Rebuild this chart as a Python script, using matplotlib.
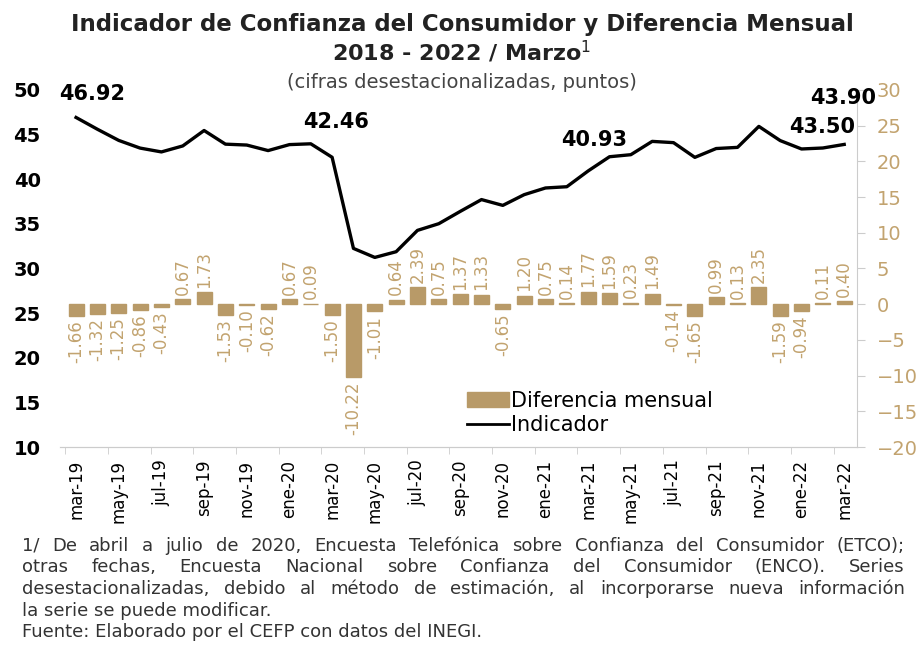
import matplotlib
matplotlib.use("Agg")
import matplotlib.pyplot as plt
from matplotlib.patches import Patch
from matplotlib.lines import Line2D

# monthly data, mar-2019 .. mar-2022
months = ["mar-19", "abr-19", "may-19", "jun-19", "jul-19", "ago-19", "sep-19", "oct-19",
          "nov-19", "dic-19", "ene-20", "feb-20", "mar-20", "abr-20", "may-20", "jun-20",
          "jul-20", "ago-20", "sep-20", "oct-20", "nov-20", "dic-20", "ene-21", "feb-21",
          "mar-21", "abr-21", "may-21", "jun-21", "jul-21", "ago-21", "sep-21", "oct-21",
          "nov-21", "dic-21", "ene-22", "feb-22", "mar-22"]

diferencia = [-1.66, -1.32, -1.25, -0.86, -0.43, 0.67, 1.73, -1.53, -0.10, -0.62,
              0.67, 0.09, -1.50, -10.22, -1.01, 0.64, 2.39, 0.75, 1.37, 1.33,
              -0.65, 1.20, 0.75, 0.14, 1.77, 1.59, 0.23, 1.49, -0.14, -1.65,
              0.99, 0.13, 2.35, -1.59, -0.94, 0.11, 0.40]

indicador = [46.92, 45.60, 44.35, 43.49, 43.06, 43.73, 45.46, 43.93, 43.83, 43.21,
             43.88, 43.97, 42.46, 32.25, 31.24, 31.88, 34.27, 35.02, 36.39, 37.72,
             37.07, 38.27, 39.02, 39.16, 40.93, 42.52, 42.75, 44.24, 44.10, 42.45,
             43.44, 43.57, 45.92, 44.33, 43.39, 43.50, 43.90]

# labelled points on the line: (text, x, y)
etiquetas = [("46.92", 0.75, 49.6), ("42.46", 12.2, 46.4), ("40.93", 24.3, 44.4),
             ("43.50", 34.95, 45.85), ("43.90", 35.95, 49.1)]

tan = "#b89a68"
tan_txt = "#c2a36f"

plt.rcParams["font.family"] = "DejaVu Sans"

fig = plt.figure(figsize=(9.24, 6.52), dpi=100)
ax = fig.add_axes([0.065, 0.3144, 0.8625, 0.5476])
ax2 = ax.twinx()

x = list(range(len(months)))

# bars on right axis
ax2.bar(x, diferencia, width=0.7, color=tan, edgecolor=tan, linewidth=1, zorder=2)
for i, v in enumerate(diferencia):
    if v >= 0:
        ax2.text(i, v + 0.6, "%.2f" % v, rotation=90, ha="center", va="bottom",
                 color=tan_txt, fontsize=12)
    else:
        ax2.text(i, v - 0.6, "%.2f" % v, rotation=90, ha="center", va="top",
                 color=tan_txt, fontsize=12)
ax2.set_ylim(-20, 30)
ax2.set_yticks(range(-20, 31, 5))
ax2.tick_params(axis="y", labelsize=14, length=6, width=0.8, pad=8, color="#cccccc")
for lab in ax2.get_yticklabels():
    lab.set_color(tan_txt)

# line on left axis, drawn above bars
ax.set_zorder(ax2.get_zorder() + 1)
ax.patch.set_visible(False)
ax.plot(x, indicador, color="black", linewidth=2.4, zorder=3)
for t, tx, ty in etiquetas:
    ax.text(tx, ty, t, ha="center", va="center", fontsize=15, fontweight="bold")
ax.set_ylim(10, 50)
ax.set_yticks(range(10, 51, 5))
ax.tick_params(axis="y", length=0, labelsize=14, pad=14)
for lab in ax.get_yticklabels():
    lab.set_fontweight("bold")
ax.set_xlim(-0.75, 36.6)
ax.set_xticks(x[::2])
ax.set_xticklabels(months[::2], rotation=90, fontsize=12)
ax.set_xticks([i - 0.5 for i in x[::2]], minor=True)
ax.tick_params(axis="x", which="major", length=0, pad=9)
ax.tick_params(axis="x", which="minor", length=5, color="#cccccc")

for a in (ax, ax2):
    a.spines["top"].set_visible(False)
    a.spines["left"].set_visible(False)
ax.spines["right"].set_visible(False)
ax2.spines["right"].set_color("#cccccc")
ax2.spines["bottom"].set_color("#cccccc")
ax.spines["bottom"].set_color("#cccccc")

handles = [Patch(color=tan, label="Diferencia mensual"),
           Line2D([], [], color="black", linewidth=2, label="Indicador")]
ax.legend(handles=handles, loc="lower left", bbox_to_anchor=(0.498, 0.005),
          frameon=False, fontsize=15, handlelength=2.0, handletextpad=0.1,
          borderpad=0, labelspacing=0.2)

# titles
fig.text(0.5, 0.962, "Indicador de Confianza del Consumidor y Diferencia Mensual",
         ha="center", va="center", fontsize=16.5, fontweight="bold", color="#222222")
fig.text(0.5, 0.921, "2018 - 2022 / Marzo$^{1}$", ha="center", va="center",
         fontsize=16, fontweight="bold", color="#222222")
fig.text(0.5, 0.873, "(cifras desestacionalizadas, puntos)", ha="center", va="center",
         fontsize=14, color="#444444")

# footnote, first three lines justified
nota = ["1/ De abril a julio de 2020, Encuesta Telefónica sobre Confianza del Consumidor (ETCO);",
        "otras fechas, Encuesta Nacional sobre Confianza del Consumidor (ENCO). Series",
        "desestacionalizadas, debido al método de estimación, al incorporarse nueva información",
        "la serie se puede modificar.",
        "Fuente: Elaborado por el CEFP con datos del INEGI."]
x_ini, x_fin = 22, 905
y0 = 546
renderer = fig.canvas.get_renderer()
for k, linea in enumerate(nota):
    yy = 1 - (y0 + k * 21.5) / 652
    if k < 3:
        palabras = linea.split(" ")
        textos = [fig.text(0, yy, p, ha="left", va="center", fontsize=13, color="#333333")
                  for p in palabras]
        anchos = [t.get_window_extent(renderer).width for t in textos]
        hueco = (x_fin - x_ini - sum(anchos)) / (len(palabras) - 1)
        pos = x_ini
        for t, w in zip(textos, anchos):
            t.set_x(pos / 924)
            pos += w + hueco
    else:
        fig.text(x_ini / 924, yy, linea, ha="left", va="center", fontsize=13,
                 color="#333333")

fig.savefig("out.png", dpi=100)
